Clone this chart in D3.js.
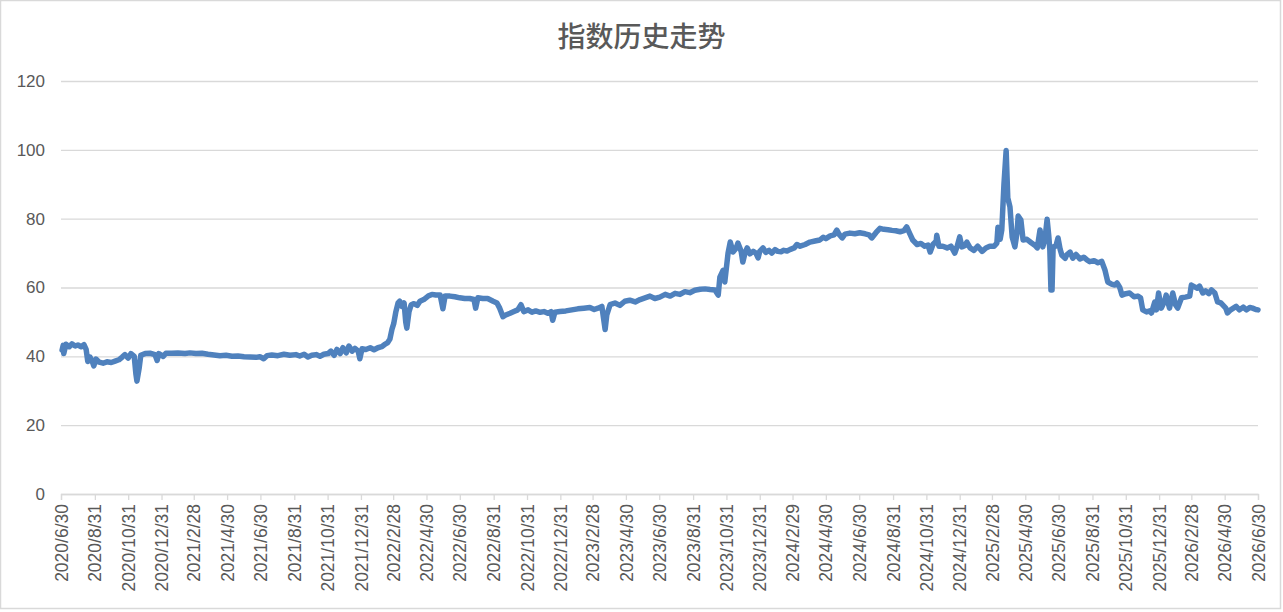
<!DOCTYPE html>
<html>
<head>
<meta charset="utf-8">
<script src="https://cdn.jsdelivr.net/npm/d3@7"></script>
<style>
  body { margin: 0; background: #fff; }
  svg text { font-family: "Liberation Sans", Arial, sans-serif; fill: #595959; }
</style>
</head>
<body>
<script>
// chart values
const chartTitle = "指数历史走势";

const dates = [
  "2020-07-02","2020-07-04","2020-07-05","2020-07-09","2020-07-15","2020-07-20","2020-07-26","2020-07-31",
  "2020-08-06","2020-08-11","2020-08-15","2020-08-18","2020-08-22","2020-08-26","2020-08-29","2020-09-02",
  "2020-09-08","2020-09-15","2020-09-22","2020-09-30","2020-10-07","2020-10-14","2020-10-20","2020-10-25",
  "2020-10-31","2020-11-05","2020-11-11","2020-11-14","2020-11-16","2020-11-20","2020-11-23","2020-12-01",
  "2020-12-10","2020-12-19","2020-12-23","2020-12-26","2021-01-03","2021-01-08","2021-01-19","2021-01-30",
  "2021-02-12","2021-02-21","2021-03-04","2021-03-15","2021-03-26","2021-04-06","2021-04-17","2021-04-28",
  "2021-05-09","2021-05-20","2021-05-31","2021-06-11","2021-06-22","2021-06-29","2021-07-06","2021-07-12",
  "2021-07-21","2021-08-01","2021-08-12","2021-08-23","2021-09-03","2021-09-10","2021-09-18","2021-09-25",
  "2021-10-02","2021-10-10","2021-10-17","2021-10-24","2021-11-01","2021-11-06","2021-11-12","2021-11-17",
  "2021-11-23","2021-11-28","2021-12-04","2021-12-09","2021-12-15","2021-12-20","2021-12-26","2021-12-29",
  "2022-01-02","2022-01-09","2022-01-17","2022-01-24","2022-01-31","2022-02-07","2022-02-13","2022-02-18",
  "2022-02-22","2022-02-26","2022-03-01","2022-03-05","2022-03-09","2022-03-12","2022-03-16","2022-03-20",
  "2022-03-23","2022-03-25","2022-03-29","2022-04-02","2022-04-07","2022-04-13","2022-04-18","2022-04-25",
  "2022-05-03","2022-05-10","2022-05-17","2022-05-25","2022-05-30","2022-06-03","2022-06-12","2022-06-21",
  "2022-06-30","2022-07-09","2022-07-18","2022-07-26","2022-07-29","2022-08-02","2022-08-11","2022-08-20",
  "2022-08-30","2022-09-06","2022-09-11","2022-09-17","2022-09-22","2022-09-30","2022-10-07","2022-10-14",
  "2022-10-20","2022-10-25","2022-11-02","2022-11-09","2022-11-16","2022-11-24","2022-12-01","2022-12-08",
  "2022-12-14","2022-12-17","2022-12-21","2022-12-30","2023-01-10","2023-01-21","2023-02-01","2023-02-12",
  "2023-02-23","2023-03-03","2023-03-10","2023-03-17","2023-03-23","2023-03-26","2023-04-01","2023-04-10",
  "2023-04-19","2023-04-28","2023-05-07","2023-05-17","2023-05-26","2023-06-04","2023-06-13","2023-06-22",
  "2023-07-01","2023-07-11","2023-07-20","2023-07-29","2023-08-07","2023-08-16","2023-08-25","2023-09-03",
  "2023-09-13","2023-09-22","2023-10-01","2023-10-10","2023-10-16","2023-10-19","2023-10-25","2023-10-28",
  "2023-11-03","2023-11-07","2023-11-12","2023-11-18","2023-11-21","2023-11-27","2023-11-30","2023-12-04",
  "2023-12-08","2023-12-13","2023-12-19","2023-12-24","2023-12-28","2023-12-31","2024-01-06","2024-01-11",
  "2024-01-17","2024-01-22","2024-01-28","2024-02-02","2024-02-08","2024-02-13","2024-02-19","2024-02-24",
  "2024-03-03","2024-03-08","2024-03-14","2024-03-23","2024-04-01","2024-04-10","2024-04-19","2024-04-25",
  "2024-04-30","2024-05-08","2024-05-15","2024-05-20","2024-05-24","2024-05-30","2024-06-04","2024-06-13",
  "2024-06-22","2024-07-01","2024-07-11","2024-07-18","2024-07-23","2024-07-31","2024-08-07","2024-08-14",
  "2024-08-22","2024-08-29","2024-09-05","2024-09-13","2024-09-20","2024-09-25","2024-10-01","2024-10-06",
  "2024-10-14","2024-10-21","2024-10-28","2024-11-03","2024-11-07","2024-11-12","2024-11-18","2024-11-19",
  "2024-11-23","2024-11-30","2024-12-08","2024-12-15","2024-12-22","2024-12-26","2024-12-31","2025-01-04",
  "2025-01-10","2025-01-13","2025-01-19","2025-01-26","2025-02-02","2025-02-10","2025-02-17","2025-02-24",
  "2025-03-04","2025-03-09","2025-03-11","2025-03-15","2025-03-18","2025-03-22","2025-03-26","2025-03-29",
  "2025-04-02","2025-04-06","2025-04-11","2025-04-15","2025-04-17","2025-04-22","2025-04-26","2025-05-03",
  "2025-05-11","2025-05-18","2025-05-22","2025-05-27","2025-06-01","2025-06-05","2025-06-09","2025-06-12",
  "2025-06-14","2025-06-16","2025-06-18","2025-06-20","2025-06-25","2025-06-29","2025-07-03","2025-07-06",
  "2025-07-12","2025-07-15","2025-07-21","2025-07-26","2025-08-01","2025-08-08","2025-08-15","2025-08-21",
  "2025-08-26","2025-09-03","2025-09-10","2025-09-17","2025-09-23","2025-09-28","2025-10-05","2025-10-11",
  "2025-10-15","2025-10-20","2025-10-24","2025-10-31","2025-11-07","2025-11-15","2025-11-22","2025-11-27",
  "2025-12-01","2025-12-08","2025-12-14","2025-12-17","2025-12-23","2025-12-26","2025-12-30","2026-01-04",
  "2026-01-10","2026-01-13","2026-01-19","2026-01-25","2026-01-30","2026-02-03","2026-02-10","2026-02-17",
  "2026-02-25","2026-02-28","2026-03-06","2026-03-11","2026-03-15","2026-03-21","2026-03-26","2026-04-01",
  "2026-04-06","2026-04-12","2026-04-17","2026-04-23","2026-04-26","2026-05-02","2026-05-05","2026-05-11",
  "2026-05-16","2026-05-21","2026-05-27","2026-06-03","2026-06-09","2026-06-15","2026-06-20","2026-06-26",
  "2026-06-30"
];

const values = [
  41.8,43.2,40.8,43.5,42.8,43.6,43.0,43.3,
  42.8,43.4,42.0,38.5,39.8,38.6,37.2,39.2,
  38.3,38.0,38.4,38.2,38.6,39.0,39.8,40.5,
  39.5,40.8,40.0,35.0,32.8,36.5,40.3,40.8,
  40.9,40.5,38.8,40.8,40.0,40.9,40.9,41.0,
  40.8,41.0,40.8,40.9,40.6,40.4,40.2,40.3,
  40.0,40.1,39.9,39.8,39.7,39.9,39.3,40.2,
  40.4,40.2,40.6,40.3,40.5,40.1,40.6,39.8,
  40.3,40.5,40.0,40.6,40.8,41.5,40.3,42.0,
  40.8,42.5,41.0,43.0,41.5,42.3,41.5,39.3,
  42.2,42.0,42.5,41.9,42.5,42.8,43.5,44.0,
  45.0,48.0,49.5,53.0,55.5,56.0,54.5,55.5,
  50.0,48.2,53.0,55.0,55.3,54.8,56.0,56.5,
  57.5,58.0,57.8,57.8,53.8,57.5,57.5,57.3,
  57.0,56.8,56.8,56.5,54.0,57.0,56.8,56.8,
  56.0,55.5,54.0,51.5,52.0,52.5,53.0,53.5,
  55.0,53.0,53.5,52.8,53.2,52.8,53.0,52.5,
  53.0,50.5,52.8,53.0,53.2,53.5,53.8,54.0,
  54.2,53.6,54.0,54.5,47.8,52.0,55.0,55.5,
  54.8,56.0,56.3,55.8,56.5,57.0,57.5,56.8,
  57.2,58.0,57.5,58.3,58.0,58.8,58.5,59.2,
  59.5,59.6,59.4,59.3,57.8,63.0,65.0,61.6,
  70.0,73.2,70.3,71.5,72.9,70.5,67.4,70.0,
  71.5,69.8,70.5,70.0,68.6,70.5,71.5,70.2,
  70.8,70.0,71.0,70.5,70.4,70.8,70.6,71.0,
  71.5,72.5,72.0,72.5,73.2,73.5,73.8,74.6,
  74.2,75.0,75.3,76.7,75.5,74.4,75.5,75.8,
  75.6,75.9,75.6,75.3,74.4,76.0,77.2,76.9,
  76.8,76.6,76.5,76.2,76.5,77.6,75.5,73.8,
  72.5,72.8,72.0,72.3,70.3,72.5,73.5,75.2,
  72.0,72.0,71.5,72.0,70.0,71.8,74.7,71.8,
  72.2,73.2,71.5,70.8,72.0,70.5,71.5,72.0,
  72.0,72.9,77.5,74.0,76.7,90.0,99.8,86.0,
  83.4,74.7,71.8,76.0,80.8,79.6,73.8,74.0,
  73.0,72.2,71.5,76.7,71.8,74.0,79.8,75.0,
  70.9,59.3,59.3,71.8,72.0,74.4,71.0,69.4,
  68.5,69.5,70.3,68.5,69.6,68.3,68.8,68.0,
  67.5,67.8,67.2,67.6,65.0,61.6,61.0,60.7,
  61.3,60.0,57.8,58.2,58.4,57.3,57.5,57.0,
  53.5,52.9,53.2,52.6,55.8,53.5,58.4,54.0,
  56.0,57.8,54.0,58.4,55.0,54.0,57.0,57.2,
  57.5,60.7,60.2,59.8,60.4,58.4,59.0,58.2,
  59.3,58.4,55.8,55.5,55.0,54.0,52.6,53.5,
  54.0,54.5,53.5,54.3,53.5,54.2,54.0,53.6,
  53.5
];

const yTicks = [0, 20, 40, 60, 80, 100, 120];

// x tick labels: every other month-end
const xTickLabels = [
  "2020/6/30","2020/8/31","2020/10/31","2020/12/31","2021/2/28","2021/4/30","2021/6/30",
  "2021/8/31","2021/10/31","2021/12/31","2022/2/28","2022/4/30","2022/6/30","2022/8/31",
  "2022/10/31","2022/12/31","2023/2/28","2023/4/30","2023/6/30","2023/8/31","2023/10/31",
  "2023/12/31","2024/2/29","2024/4/30","2024/6/30","2024/8/31","2024/10/31","2024/12/31",
  "2025/2/28","2025/4/30","2025/6/30","2025/8/31","2025/10/31","2025/12/31","2026/2/28",
  "2026/4/30","2026/6/30"
];

const W = 1283, H = 612;
const margin = {top: 81, right: 25, bottom: 118, left: 61};

const parseDash = d3.timeParse("%Y-%m-%d");
const parseSlash = d3.timeParse("%Y/%m/%d");
const points = dates.map((d, i) => ({date: parseDash(d), value: values[i]}));
const tickDates = xTickLabels.map(parseSlash);

const svg = d3.select("body").append("svg")
    .attr("width", W)
    .attr("height", H);

// chart frame
svg.append("rect")
    .attr("x", 0.5).attr("y", 0.5)
    .attr("width", W - 3).attr("height", H - 4)
    .attr("fill", "#fff")
    .attr("stroke", "#d9d9d9")
    .attr("stroke-width", 1.5);

const x = d3.scaleTime()
    .domain([tickDates[0], tickDates[tickDates.length - 1]])
    .range([margin.left, W - margin.right]);

const y = d3.scaleLinear()
    .domain([0, 120])
    .range([H - margin.bottom, margin.top]);

// title
svg.append("text")
    .attr("x", W / 2)
    .attr("y", 47)
    .attr("text-anchor", "middle")
    .style("font-family", "'Noto Sans CJK SC', sans-serif")
    .style("font-size", "28px")
    .style("font-weight", "500")
    .text(chartTitle);

// horizontal gridlines + y labels
const yAxis = svg.append("g")
    .attr("transform", `translate(${margin.left},0)`)
    .call(d3.axisLeft(y).tickValues(yTicks).tickSize(-(W - margin.left - margin.right)).tickPadding(16));
yAxis.select(".domain").remove();
yAxis.selectAll(".tick line").attr("stroke", "#d9d9d9").attr("stroke-width", 1.3);
yAxis.selectAll(".tick text").style("font-size", "17px").attr("fill", "#595959");

// x axis
const xAxis = svg.append("g")
    .attr("transform", `translate(0,${y(0)})`)
    .call(d3.axisBottom(x).tickValues(tickDates).tickSize(6)
      .tickFormat((d, i) => xTickLabels[i]));
xAxis.select(".domain").attr("stroke", "#d9d9d9").attr("stroke-width", 1.3);
xAxis.selectAll(".tick line").attr("stroke", "#d9d9d9").attr("stroke-width", 1.3);
xAxis.selectAll(".tick text")
    .style("font-size", "17.5px")
    .attr("fill", "#595959")
    .attr("text-anchor", "end")
    .attr("transform", "rotate(-90)")
    .attr("x", -10)
    .attr("y", 0)
    .attr("dy", "0.35em");

// data line
const line = d3.line()
    .x(d => x(d.date))
    .y(d => y(d.value));

svg.append("path")
    .datum(points)
    .attr("fill", "none")
    .attr("stroke", "#4f81bd")
    .attr("stroke-width", 5.5)
    .attr("stroke-linejoin", "round")
    .attr("stroke-linecap", "round")
    .attr("d", line);
</script>
</body>
</html>
